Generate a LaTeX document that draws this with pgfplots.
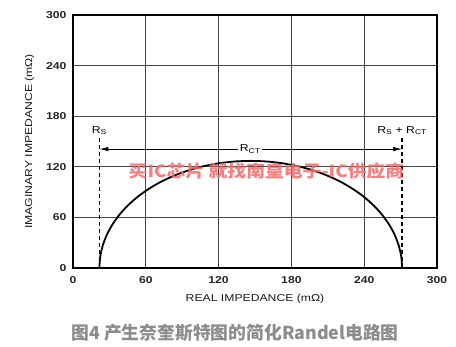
\documentclass[border=0pt]{standalone}
\usepackage{pgfplots}
\pgfplotsset{compat=1.18}
\usepackage{fontspec}
\setmainfont{Liberation Sans}
\newfontfamily\wide[FakeStretch=1.22]{Liberation Sans}
\newfontfamily\cjk{Noto Sans CJK SC}
\newfontfamily\cjkwide[FakeStretch=1.12]{Noto Sans CJK SC}
\usetikzlibrary{arrows.meta}
\definecolor{wm}{RGB}{242,105,105}
\definecolor{cap}{RGB}{140,140,140}
\definecolor{gridc}{RGB}{70,70,70}
\begin{document}
\begin{tikzpicture}
\useasboundingbox (0,0) rectangle (456pt,347pt);
\begin{axis}[
  at={(73pt,79pt)}, anchor=south west,
  scale only axis, width=364pt, height=253pt,
  xmin=0, xmax=300, ymin=0, ymax=300,
  xtick={0,60,...,300}, ytick={0,60,...,300},
  grid=major, major grid style={draw=gridc, line width=0.6pt},
  axis line style={line width=1.2pt},
  tick style={draw=none},
  /pgf/number format/assume math mode=true,
  ticklabel style={font=\wide\fontsize{10}{12}\selectfont\bfseries, text=black!85},
  xticklabel style={yshift=-5pt},
  yticklabel style={xshift=-3pt},
  label style={font=\wide\fontsize{10}{12}\selectfont, text=black!90},
  xlabel={REAL IMPEDANCE (mΩ)},
  ylabel={IMAGINARY IMPEDANCE (mΩ)},
  xlabel style={yshift=-4pt},
  ylabel style={yshift=5pt},
  clip=false,
]
\addplot[black, line width=1.8pt, smooth] coordinates {
(21.75,0) (22.43,13.27) (24.48,26.41) (27.85,39.24) (32.54,51.66) (38.46,63.5)
(45.58,74.65) (53.80,84.98) (63.03,94.37) (73.17,102.74) (84.12,109.98)
(95.76,116.02) (107.95,120.79) (120.56,124.22) (133.46,126.30) (146.5,127)
(159.54,126.30) (172.44,124.22) (185.05,120.79) (197.24,116.02) (208.88,109.98)
(219.83,102.74) (229.97,94.37) (239.20,84.98) (247.42,74.65) (254.54,63.5)
(260.46,51.66) (265.15,39.24) (268.52,26.41) (270.57,13.27) (271.25,0)
};
\addplot[black, line width=1.3pt, dash pattern=on 4pt off 3pt] coordinates {(21.75,0) (21.75,154)};
\addplot[black, line width=1.3pt, dash pattern=on 4pt off 3pt] coordinates {(271.25,0) (271.25,154)};
\addplot[black, line width=0.8pt, {Latex[length=9pt,width=4.5pt]}-{Latex[length=9pt,width=4.5pt]}] coordinates {(21.75,141) (271.25,141)};
\node[fill=white, inner sep=1.5pt, font=\wide\fontsize{10}{12}\selectfont] at (axis cs:146,141) {R\textsubscript{CT}};
\node[font=\wide\fontsize{10}{12}\selectfont, anchor=south] at (axis cs:21.75,154) {R\textsubscript{S}};
\node[font=\wide\fontsize{10}{12}\selectfont, anchor=south] at (axis cs:271.25,154) {R\textsubscript{S} + R\textsubscript{CT}};
\node[text=wm, opacity=0.85, font=\cjkwide\fontsize{16.8}{19}\selectfont\bfseries] at (axis cs:159.5,115) {买IC芯片 就找南皇电子-IC供应商};
\end{axis}
\node[text=cap, font=\cjk\fontsize{17.8}{20}\selectfont\bfseries] at (235pt,14pt) {图4 产生奈奎斯特图的简化Randel电路图};
\end{tikzpicture}
\end{document}
